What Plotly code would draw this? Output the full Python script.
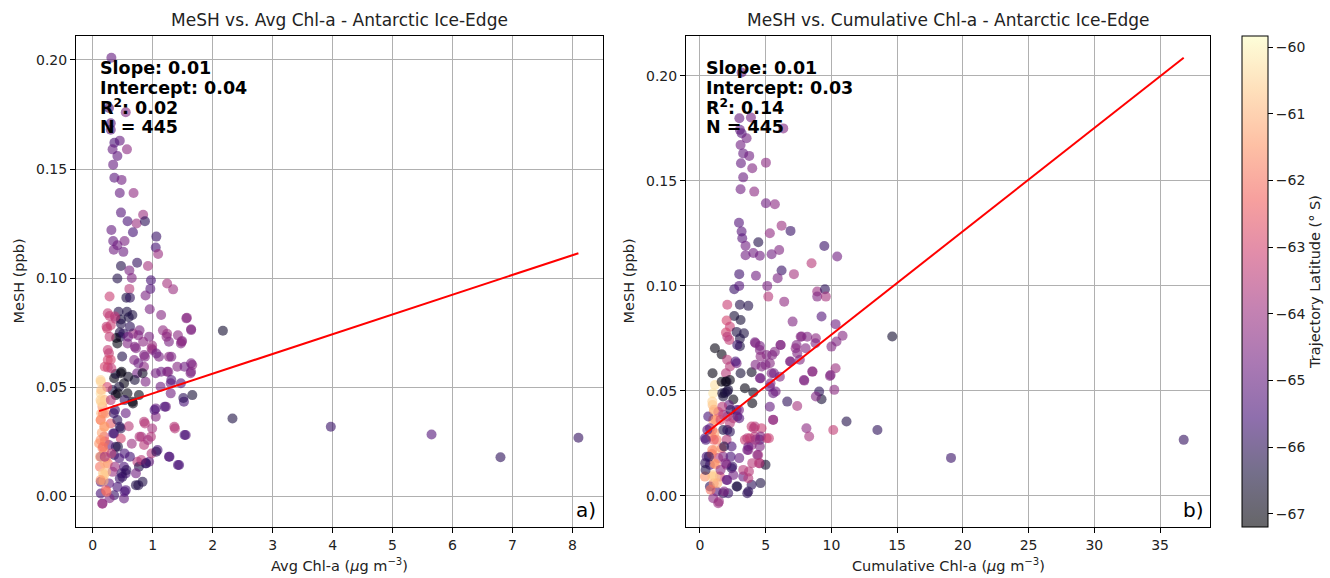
import plotly.graph_objects as go

# ---------------- data ----------------
# Panel a: Avg Chl-a vs MeSH (sparser outer points)
a_chl = [0.31,0.27,0.55,0.30,0.30,0.45,0.36,0.57,0.33,0.41,0.34,0.36,0.48,0.45,0.68,0.47,0.84,0.58,0.73,0.87,
         0.31,0.67,1.06,0.34,0.53,0.41,0.51,0.35,1.05,1.09,0.74,0.47,0.92,0.61,0.65,0.41,0.97,1.24,1.34,0.96,
         0.61,0.88,0.28,0.56,0.62,0.43,0.57,0.95,0.28,0.38,0.30,0.24,0.60,0.47,0.47,1.14,1.57,1.64,2.17,1.17,
         1.24,1.42,0.78,0.67,0.76,0.94,0.45,0.46,0.39,0.41,0.27,0.30,0.49,0.72,0.855,0.994,1.105,1.27,1.47,1.27,
         1.66,1.63,1.41,1.24,1.05,0.855,0.69,0.74,0.88,0.133,0.133,0.356,0.467,0.522,0.44,0.33,0.578,0.383,0.66,0.77,
         0.83,1.13,1.30,1.47,1.66,1.52,1.30,1.05,1.22,1.05,0.855,0.99,1.36,1.55,0.81,0.97,0.855,1.08,1.27,1.44,
         0.94,0.744,0.88,0.77,0.72,0.83,0.55,0.52,0.72,0.52,0.55,0.16,0.217,0.133,0.19,0.30,0.41,0.467,0.356,0.19,
         0.467,0.105,0.27,0.383,0.19,0.356,0.44,0.133,0.217,0.12,0.19,0.33,0.494,0.133,0.27,0.41,0.133,0.217,0.16,0.356,
         2.33,3.97,5.65,6.80,8.10,0.20,0.15,0.25,0.18,0.30,0.24,0.35,0.55,0.60,0.65,0.28,0.45,0.62,0.38,0.25,
         0.14,0.14,0.16,0.22,0.20,1.49,0.66,0.62,0.58,0.99]
a_mesh = [0.201,0.178,0.176,0.171,0.168,0.163,0.162,0.159,0.159,0.156,0.152,0.146,0.145,0.139,0.139,0.130,0.129,0.126,0.125,0.126,
          0.122,0.121,0.119,0.117,0.117,0.115,0.112,0.113,0.114,0.111,0.107,0.1055,0.1055,0.1035,0.100,0.0998,0.099,0.0975,0.0948,0.095,
          0.095,0.092,0.0915,0.091,0.091,0.0845,0.0845,0.0857,0.0826,0.0813,0.0783,0.0768,0.082,0.081,0.079,0.083,0.0818,0.0765,0.0758,0.076,
          0.0744,0.0737,0.076,0.0745,0.0737,0.0731,0.075,0.073,0.0725,0.070,0.0655,0.0625,0.064,0.0678,0.0647,0.0670,0.0639,0.0639,0.0700,0.0708,
          0.0601,0.0563,0.0593,0.0570,0.0563,0.0593,0.0624,0.0563,0.0524,0.0524,0.0471,0.0540,0.0563,0.0517,0.0501,0.0486,0.0471,0.0463,0.0433,0.0463,
          0.0563,0.0501,0.0517,0.0517,0.0463,0.0433,0.0471,0.0402,0.0410,0.0364,0.0341,0.0310,0.0318,0.0280,0.0272,0.0272,0.0234,0.0211,0.0180,0.0142,
          0.0157,0.0157,0.0150,0.0134,0.0050,0.0065,0.0027,-0.0011,0.0104,0.0134,0.0104,0.0410,0.0379,0.0349,0.0318,0.0333,0.0349,0.0310,0.0287,0.0272,
          0.0264,0.0241,0.0234,0.0226,0.0203,0.0188,0.0173,0.0180,0.0173,0.0134,0.0096,0.0111,0.0088,0.0065,0.0058,0.0042,0.0012,0.0027,-0.0035,0.0004,
          0.0356,0.0318,0.0282,0.0178,0.0267,0.0440,0.0290,0.0150,0.0070,0.0440,0.0500,0.0380,0.0380,0.0320,0.0240,-0.0010,0.0080,0.0180,0.0560,0.0590,
          0.0430,0.0380,0.0220,0.0110,0.0250,0.0711,0.0830,0.0777,0.0700,0.0690]
a_lat = [-65.0,-65.5,-64.5,-65.3,-65.2,-65.0,-65.4,-64.3,-65.0,-65.1,-65.0,-65.2,-64.8,-65.0,-64.2,-65.3,-64.0,-65.5,-64.0,-66.0,
         -65.0,-65.6,-65.8,-65.0,-64.6,-64.8,-64.9,-64.8,-65.6,-64.0,-65.9,-66.2,-63.8,-64.6,-64.5,-66.2,-65.5,-63.8,-64.0,-65.3,
         -63.5,-64.6,-63.2,-66.3,-66.0,-66.2,-66.3,-64.6,-63.3,-63.5,-63.2,-63.0,-66.3,-66.4,-66.2,-64.4,-64.3,-64.5,-66.6,-64.2,
         -64.0,-64.3,-64.6,-64.0,-64.5,-64.6,-66.3,-66.1,-67.0,-67.0,-63.3,-63.0,-66.2,-64.5,-64.5,-64.4,-64.6,-64.3,-64.5,-64.6,
         -64.3,-64.6,-64.4,-64.5,-64.7,-64.3,-64.5,-64.8,-64.6,-60.5,-60.3,-67.0,-67.0,-67.0,-66.5,-66.3,-67.0,-66.8,-67.0,-67.0,
         -66.8,-64.8,-65.0,-65.3,-66.5,-65.5,-64.8,-65.0,-64.8,-64.4,-63.5,-63.8,-63.5,-65.2,-63.8,-63.6,-63.5,-65.5,-65.3,-65.5,
         -65.0,-63.5,-66.0,-66.2,-66.2,-66.2,-65.5,-65.0,-64.8,-65.5,-65.5,-61.5,-61.5,-62.0,-61.5,-62.5,-66.0,-66.2,-66.0,-62.8,
         -63.0,-61.5,-65.0,-66.0,-61.5,-66.0,-65.5,-64.8,-61.0,-62.0,-60.7,-64.0,-66.0,-65.5,-65.0,-65.5,-65.5,-62.5,-63.8,-65.8,
         -66.3,-65.8,-65.3,-66.0,-65.9,-61.0,-61.2,-62.0,-61.0,-63.5,-63.0,-65.8,-65.0,-63.5,-64.0,-64.5,-65.8,-65.6,-66.5,-63.3,
         -60.4,-61.0,-61.8,-60.8,-62.2,-64.5,-66.3,-66.0,-64.5,-64.0]

# Panel a: dense core of the cloud
a_chl_core = [0.13,0.14,0.13,0.17,0.13,0.20,0.13,0.17,0.12,0.20,0.17,0.13,0.23,0.25,0.37,0.23,0.28,0.25,0.25,0.31,
              0.20,0.51,0.59,0.70,0.84,0.98,1.06,0.87,0.76,1.23,1.31,1.48,1.56,1.64,1.64,1.64,1.53,1.14,1.26,1.31,
              1.51,1.03,1.20,0.70,0.59,0.48,0.42,0.53,0.67,0.37,0.45,0.34,0.42,0.53,0.31,0.37,0.48,0.20,0.56,0.87,
              0.78,0.92,0.98,0.81,0.89,1.06,1.28,1.42,1.53,1.37,0.76,0.53,0.16]
a_mesh_core = [0.0532,0.0486,0.0440,0.0379,0.0349,0.0318,0.0257,0.0226,0.0180,0.0150,0.0104,0.0073,0.0020,0.0838,0.0823,0.0777,0.0731,0.0670,0.0624,0.0586,
               0.0593,0.0746,0.0731,0.0685,0.0708,0.0677,0.0654,0.0639,0.0609,0.0731,0.0639,0.0708,0.0815,0.0761,0.0609,0.0570,0.0593,0.0570,0.0570,0.0532,
               0.0450,0.0395,0.0410,0.0532,0.0547,0.0570,0.0471,0.0440,0.0425,0.0395,0.0318,0.0287,0.0226,0.0195,0.0195,0.0134,0.0104,0.0180,0.0119,0.0333,
               0.0272,0.0257,0.0195,0.0165,0.0150,0.0203,0.0180,0.0142,0.0280,0.0310,0.0050,0.0020,-0.0034]
a_lat_core = [-60.5,-60.8,-60.6,-61.8,-61.5,-61.3,-61.6,-62.0,-61.2,-61.0,-60.6,-61.5,-62.0,-63.3,-63.5,-63.3,-63.3,-63.3,-63.0,-63.3,
              -63.0,-66.0,-64.8,-64.5,-64.3,-64.0,-64.8,-64.5,-64.8,-64.3,-64.6,-64.3,-64.4,-64.5,-64.6,-64.5,-64.8,-64.8,-64.5,-65.3,
              -66.0,-65.5,-65.5,-66.5,-66.8,-67.0,-67.0,-66.0,-67.0,-65.8,-66.0,-65.5,-66.3,-65.5,-63.5,-64.0,-65.8,-63.8,-66.0,-63.5,
              -63.6,-63.8,-63.6,-63.5,-65.8,-66.0,-65.5,-65.5,-65.5,-63.5,-66.2,-65.5,-64.3]

# Panel b: Cumulative Chl-a vs MeSH (sparser outer points)
b_chl = [3.17,3.00,3.88,6.34,3.04,3.17,3.55,3.09,3.29,3.75,5.02,3.12,3.98,3.29,3.09,4.13,5.02,5.70,2.97,3.17,
         3.22,4.44,5.32,6.21,6.89,9.46,10.44,3.47,4.06,4.56,3.47,5.45,6.03,2.99,4.26,6.21,5.91,7.15,8.49,2.61,
         2.99,5.12,5.20,6.41,8.92,9.51,8.92,9.58,2.08,3.04,3.68,2.61,3.09,2.03,2.28,1.98,2.23,2.79,3.04,3.04,
         9.25,7.05,10.32,10.85,14.63,10.39,7.73,7.35,8.04,8.82,10.0,4.18,4.56,6.14,6.85,7.60,1.14,1.65,2.07,2.28,
         1.98,2.79,0.96,3.93,4.56,5.07,5.70,5.32,4.69,5.45,6.08,4.56,8.57,7.94,10.32,9.89,10.22,1.14,1.65,2.28,
         3.42,4.06,3.98,2.54,1.90,5.32,5.57,5.32,5.57,6.64,7.40,9.07,9.25,8.82,11.15,13.50,19.10,36.80,1.01,0.76,
         0.38,0.89,1.27,1.77,2.28,2.03,2.41,1.65,1.14,0.51,0.76,1.39,1.77,2.03,2.41,1.01,0.38,1.52,2.03,0.76,
         1.27,1.77,1.01,1.39,2.15,2.79,3.68,3.93,4.61,3.29,2.54,3.29,3.68,2.99,3.68,3.93,4.43,4.56,4.99,3.42,
         3.80,4.18,4.56,5.07,4.18,4.69,3.93,3.68,4.56,8.10,8.31,10.14,5.57,1.01,0.96,1.06,2.03,2.15,1.77,2.79,
         2.99,2.28,2.54,0.63,1.77,1.10,1.20,1.05,1.40,0.90]
b_mesh = [0.2016,0.1798,0.1802,0.1750,0.1743,0.1727,0.1703,0.1671,0.1631,0.1619,0.1587,0.1584,0.1560,0.1517,0.1460,0.1449,0.1394,0.1389,0.1301,0.1259,
          0.1227,0.1208,0.1251,0.1287,0.1262,0.1190,0.1140,0.1191,0.1157,0.1144,0.1146,0.1151,0.1171,0.1056,0.1048,0.1073,0.1037,0.1056,0.1108,0.0984,
          0.1000,0.1000,0.0949,0.0925,0.0973,0.0984,0.0949,0.0949,0.0910,0.0910,0.0905,0.0857,0.0838,0.0835,0.0806,0.0778,0.0743,0.0781,0.0749,0.0713,
          0.0854,0.0830,0.0818,0.0763,0.0759,0.0735,0.0759,0.0719,0.0703,0.0751,0.0711,0.0732,0.0714,0.0719,0.0640,0.0648,0.0703,0.0674,0.0648,0.0616,
          0.0584,0.0632,0.0584,0.0589,0.0695,0.0671,0.0687,0.0632,0.0616,0.0584,0.0568,0.0560,0.0592,0.0549,0.0608,0.0571,0.0505,0.0528,0.0544,0.0552,
          0.0513,0.0493,0.0441,0.0459,0.0490,0.0520,0.0489,0.0425,0.0363,0.0449,0.0428,0.0497,0.0460,0.0473,0.0354,0.0314,0.0181,0.0267,0.0362,0.0322,
          0.0275,0.0283,0.0267,0.0314,0.0306,0.0267,0.0235,0.0227,0.0219,0.0187,0.0148,0.0180,0.0187,0.0148,0.0132,0.0100,0.0092,0.0092,0.0076,0.0045,
          0.0021,0.0013,-0.0011,-0.0035,0.0013,0.0045,0.0021,0.0053,0.0061,0.0092,0.0100,0.0124,0.0084,0.0180,0.0219,0.0243,0.0195,0.0155,0.0148,0.0267,
          0.0275,0.0283,0.0267,0.0275,0.0330,0.0322,0.0330,0.0235,0.0235,0.0322,0.0283,0.0314,0.0362,0.0489,0.0433,0.0401,0.0545,0.0505,0.0473,0.0409,
          0.0370,0.0346,0.0370,0.0378,0.0386,0.0300,0.0150,0.0060,0.0400,0.0200]
b_lat = [-65.0,-65.0,-64.7,-64.5,-65.0,-65.2,-64.8,-64.8,-65.0,-64.8,-64.3,-65.0,-64.5,-64.9,-64.8,-64.3,-64.8,-64.3,-65.3,-65.2,
         -65.2,-66.2,-64.2,-64.0,-65.8,-65.8,-64.8,-64.8,-64.8,-64.8,-64.8,-64.8,-64.5,-65.7,-64.8,-65.8,-64.6,-63.8,-63.5,-65.8,
         -65.3,-64.6,-63.5,-64.2,-64.0,-66.0,-64.5,-63.8,-63.2,-66.2,-66.2,-66.5,-66.5,-63.0,-63.2,-63.0,-63.3,-66.3,-66.3,-66.3,
         -65.3,-64.5,-64.8,-64.4,-66.6,-64.5,-64.5,-64.5,-64.5,-64.3,-64.5,-64.7,-64.7,-64.5,-64.5,-64.5,-67.0,-67.0,-63.5,-63.5,
         -63.5,-64.8,-67.0,-66.8,-64.5,-64.5,-64.5,-64.4,-64.5,-64.5,-64.5,-64.6,-64.0,-64.5,-64.0,-64.5,-64.3,-60.3,-67.0,-67.0,
         -67.0,-66.8,-67.0,-67.0,-66.5,-65.0,-65.0,-65.0,-64.5,-66.0,-63.8,-66.0,-66.5,-64.5,-66.2,-66.0,-65.8,-65.9,-61.5,-65.0,
         -65.3,-61.8,-61.8,-66.3,-66.0,-63.5,-65.5,-62.5,-61.0,-65.5,-65.5,-63.5,-64.5,-64.5,-66.0,-60.5,-61.5,-63.0,-65.0,-66.0,
         -65.3,-66.0,-64.3,-64.0,-65.8,-66.3,-66.0,-66.0,-66.3,-65.0,-64.8,-63.5,-63.5,-65.0,-64.3,-64.3,-63.8,-63.8,-66.6,-63.2,
         -63.0,-63.5,-65.5,-63.2,-63.5,-63.2,-63.3,-64.8,-64.5,-64.3,-63.8,-63.3,-64.0,-60.2,-60.8,-61.0,-66.5,-66.5,-66.5,-65.3,
         -65.3,-63.5,-63.5,-65.5,-64.5,-61.3,-61.5,-61.8,-63.0,-62.0]

# Panel b: dense core of the cloud
b_chl_core = [1.95,0.94,1.06,1.19,0.94,1.06,0.94,1.06,0.94,1.19,1.32,0.81,0.45,0.56,0.40,0.43,0.68,1.84,2.08,2.33,
              2.46,1.95,1.57,2.08,1.84,1.45,2.84,3.60,2.84,2.97,2.20,1.70,2.08,1.57,1.70,2.08,2.33,4.23,3.60,4.10,
              4.61,5.25,3.60,4.36,3.98,3.73,4.49,4.23,4.61,4.99,5.50,5.63,4.23,4.61,5.37,5.76,6.13,7.28,7.66,8.16,
              8.54,7.91,9.94,8.79,7.40,6.90,2.71,3.09,3.35,2.84,2.08]
b_mesh_core = [0.0544,0.0449,0.0410,0.0362,0.0314,0.0267,0.0219,0.0156,0.0092,0.0092,0.0060,0.0029,0.0267,0.0314,0.0156,0.0124,0.0187,0.0235,0.0314,0.0187,
               0.0140,0.0156,0.0124,0.0076,0.0021,-0.0027,0.0045,0.0013,0.0378,0.0409,0.0433,0.0425,0.0378,0.0362,0.0489,0.0497,0.0409,0.0267,0.0275,0.0322,
               0.0283,0.0275,0.0219,0.0195,0.0156,0.0116,0.0156,0.0727,0.0664,0.0624,0.0671,0.0584,0.0624,0.0560,0.0536,0.0497,0.0719,0.0703,0.0758,0.0758,
               0.0592,0.0552,0.0576,0.0727,0.0679,0.0640,0.0640,0.0584,0.0774,0.0719,0.0758]
b_lat_core = [-67.0,-60.5,-61.0,-61.5,-62.0,-62.5,-61.8,-61.5,-60.7,-60.5,-61.0,-62.0,-65.5,-65.3,-66.0,-66.2,-66.0,-66.3,-66.0,-65.5,
              -65.8,-64.5,-64.3,-65.0,-64.5,-64.0,-66.3,-66.0,-65.3,-64.8,-65.0,-63.5,-63.5,-63.0,-66.5,-66.3,-66.0,-64.0,-63.5,-63.5,
              -64.5,-63.2,-64.8,-64.3,-63.5,-63.5,-63.5,-64.5,-64.3,-64.5,-64.5,-64.8,-64.5,-64.8,-64.5,-64.8,-64.5,-64.3,-64.4,-64.5,
              -64.5,-64.5,-64.5,-64.5,-64.5,-64.6,-65.5,-66.5,-66.3,-65.8,-63.5]

# regression fits as shown in the reference
a_slope, a_intercept = 0.00906, 0.0380
b_slope, b_intercept = 0.00492, 0.0276
a_stats = ["Slope: 0.01", "Intercept: 0.04", "R<sup>2</sup>: 0.02", "N = 445"]
b_stats = ["Slope: 0.01", "Intercept: 0.03", "R<sup>2</sup>: 0.14", "N = 445"]

a_xticks = [0, 1, 2, 3, 4, 5, 6, 7, 8]
b_xticks = [0, 5, 10, 15, 20, 25, 30, 35]
y_ticks = [0.00, 0.05, 0.10, 0.15, 0.20]
lat_ticks = [-60, -61, -62, -63, -64, -65, -66, -67]

# ---------------- styling ----------------
W, H = 1330, 578
FONT = "DejaVu Sans"
magma = ['#000004', '#180f3d', '#440f76', '#721f81', '#9e2f7f',
         '#cd4071', '#f1605d', '#fd9668', '#feca8d', '#fcfdbf']


def rgba(h, a=0.6):
    h = h.lstrip('#')
    return f"rgba({int(h[0:2],16)},{int(h[2:4],16)},{int(h[4:6],16)},{a})"


cscale = [[i / (len(magma) - 1), rgba(c)] for i, c in enumerate(magma)]


def px_x(p):
    return p / W


def px_y(p):
    return 1 - p / H


ax = a_chl + a_chl_core
ay = a_mesh + a_mesh_core
ac = a_lat + a_lat_core
bx = b_chl + b_chl_core
by = b_mesh + b_mesh_core
bc = b_lat + b_lat_core

fig = go.Figure()

marker = dict(size=10, coloraxis="coloraxis", line=dict(width=0))
fig.add_trace(go.Scatter(x=ax, y=ay, mode="markers",
                         marker=dict(marker, color=ac), xaxis="x", yaxis="y", showlegend=False))
fig.add_trace(go.Scatter(x=bx, y=by, mode="markers",
                         marker=dict(marker, color=bc), xaxis="x2", yaxis="y2", showlegend=False))

ax_min, ax_max = min(ax), max(ax)
bx_min, bx_max = min(bx), max(bx)
fig.add_trace(go.Scatter(x=[ax_min, ax_max], y=[a_intercept + a_slope * ax_min, a_intercept + a_slope * ax_max],
                         mode="lines", line=dict(color="red", width=2), xaxis="x", yaxis="y", showlegend=False))
fig.add_trace(go.Scatter(x=[bx_min, bx_max], y=[b_intercept + b_slope * bx_min, b_intercept + b_slope * bx_max],
                         mode="lines", line=dict(color="red", width=2), xaxis="x2", yaxis="y2", showlegend=False))

axis_common = dict(showline=True, mirror=True, linecolor="black", linewidth=1,
                   ticks="outside", ticklen=5, tickcolor="black", tickwidth=1,
                   showgrid=True, gridcolor="#b0b0b0", gridwidth=1, zeroline=False,
                   tickfont=dict(family=FONT, size=14, color="#222"))

fig.update_layout(
    width=W, height=H, margin=dict(l=0, r=0, t=0, b=0),
    paper_bgcolor="white", plot_bgcolor="white",
    font=dict(family=FONT, size=14, color="black"),
    xaxis=dict(axis_common, domain=[px_x(76), px_x(603)], range=[-0.28, 8.51],
               tickvals=a_xticks, anchor="y"),
    yaxis=dict(axis_common, domain=[px_y(527), px_y(36)], range=[-0.0142, 0.211],
               tickvals=y_ticks, tickformat=".2f", anchor="x"),
    xaxis2=dict(axis_common, domain=[px_x(686), px_x(1210)], range=[-1.06, 38.8],
                tickvals=b_xticks, anchor="y2"),
    yaxis2=dict(axis_common, domain=[px_y(527), px_y(36)], range=[-0.0148, 0.219],
                tickvals=y_ticks, tickformat=".2f", anchor="x2"),
    coloraxis=dict(
        colorscale=cscale, cmin=-67.2, cmax=-59.83,
        colorbar=dict(x=px_x(1242), xanchor="left", xpad=0, ypad=0,
                      y=px_y(527), yanchor="bottom", len=(527 - 36) / H, lenmode="fraction",
                      thickness=26, thicknessmode="pixels",
                      outlinecolor="black", outlinewidth=1,
                      ticks="outside", ticklen=5, tickcolor="black",
                      tickvals=lat_ticks,
                      tickfont=dict(family=FONT, size=14, color="#222"),
                      title=dict(text="Trajectory Latitude (° S)", side="right",
                                 font=dict(family=FONT, size=14.5, color="#222")))
    ),
)

ann = []
# titles
ann.append(dict(text="MeSH vs. Avg Chl-a - Antarctic Ice-Edge", x=px_x((76 + 603) / 2), y=px_y(20),
                font=dict(size=17, color="#222")))
ann.append(dict(text="MeSH vs. Cumulative Chl-a - Antarctic Ice-Edge", x=px_x((686 + 1210) / 2), y=px_y(20),
                font=dict(size=17, color="#222")))
# axis titles
ann.append(dict(text="Avg Chl-a (<i>μ</i>g m<sup>−3</sup>)", x=px_x((76 + 603) / 2), y=px_y(565),
                font=dict(size=14.5, color="#222")))
ann.append(dict(text="Cumulative Chl-a (<i>μ</i>g m<sup>−3</sup>)", x=px_x((686 + 1210) / 2), y=px_y(565),
                font=dict(size=14.5, color="#222")))
ann.append(dict(text="MeSH (ppb)", x=px_x(18), y=px_y(281.5), textangle=-90,
                font=dict(size=14.5, color="#222")))
ann.append(dict(text="MeSH (ppb)", x=px_x(628), y=px_y(281.5), textangle=-90,
                font=dict(size=14.5, color="#222")))
# stats
line_y = [68, 88, 107, 127]
for txt, yy in zip(a_stats, line_y):
    ann.append(dict(text=f"<b>{txt}</b>", x=px_x(98), y=px_y(yy), xanchor="left",
                    font=dict(size=17.5, color="black")))
for txt, yy in zip(b_stats, line_y):
    ann.append(dict(text=f"<b>{txt}</b>", x=px_x(704), y=px_y(yy), xanchor="left",
                    font=dict(size=17.5, color="black")))
# panel letters
ann.append(dict(text="a)", x=px_x(598), y=px_y(510), xanchor="right", font=dict(size=20, color="black")))
ann.append(dict(text="b)", x=px_x(1206), y=px_y(510), xanchor="right", font=dict(size=20, color="black")))

for a in ann:
    a.setdefault("xanchor", "center")
    a.setdefault("yanchor", "middle")
    a["xref"] = "paper"
    a["yref"] = "paper"
    a["showarrow"] = False
    a["font"]["family"] = FONT
fig.update_layout(annotations=ann)

fig.write_html("out.html")
